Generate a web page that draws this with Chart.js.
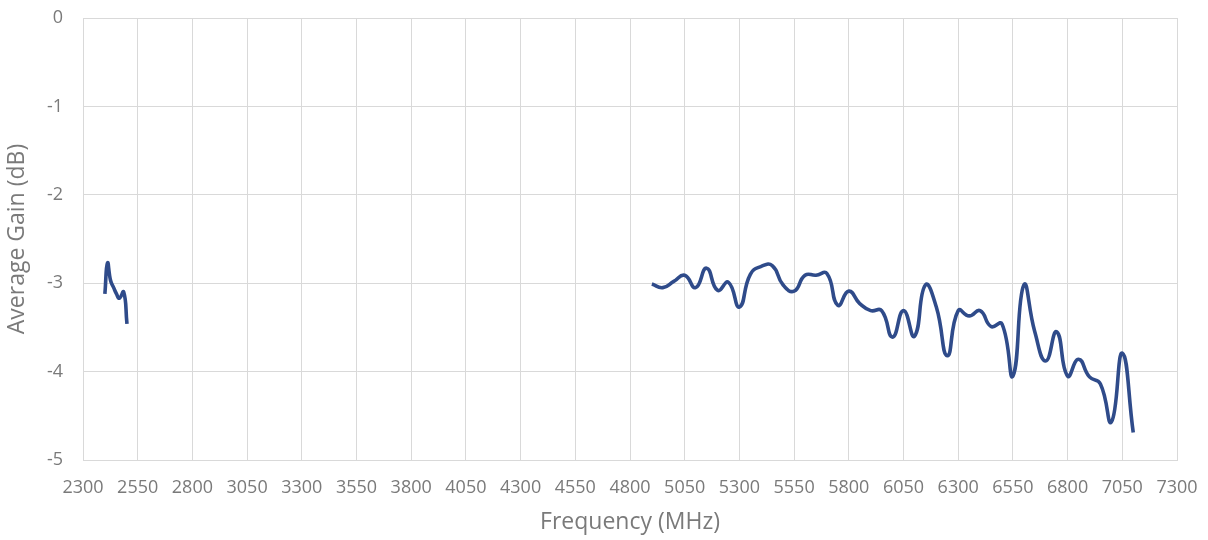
<!DOCTYPE html>
<html>
<head>
<meta charset="utf-8">
<script src="https://cdn.jsdelivr.net/npm/chart.js@4.4.1/dist/chart.umd.min.js"></script>
<style>
html,body{margin:0;padding:0;background:#fff;}
#wrap{width:1208px;height:540px;}
</style>
</head>
<body>
<div id="wrap"><canvas id="c" width="1208" height="540"></canvas></div>
<script>
const band1Freq = [2400, 2412, 2426, 2440, 2453, 2466, 2486, 2501];
const band1Gain = [-3.12, -2.77, -2.97, -3.05, -3.12, -3.17, -3.10, -3.46];

const band2Freq = [4900, 4950, 5000, 5050, 5100, 5150, 5200, 5250, 5300, 5350, 5400, 5450, 5500, 5550, 5600, 5650, 5700, 5750, 5800, 5850, 5900, 5950, 6000, 6050, 6100, 6150, 6200, 6250, 6300, 6350, 6400, 6450, 6500, 6550, 6600, 6650, 6700, 6750, 6800, 6850, 6900, 6950, 7000, 7050, 7100];
const band2Gain = [-3.01, -3.05, -2.98, -2.91, -3.05, -2.83, -3.08, -2.99, -3.27, -2.90, -2.81, -2.80, -3.02, -3.09, -2.91, -2.91, -2.89, -3.25, -3.09, -3.23, -3.31, -3.31, -3.61, -3.31, -3.60, -3.02, -3.27, -3.82, -3.31, -3.37, -3.31, -3.49, -3.46, -4.05, -3.02, -3.55, -3.88, -3.55, -4.05, -3.86, -4.06, -4.14, -4.57, -3.79, -4.69];

const xMin = 2300, xMax = 7300, xStep = 250;
const yMin = -5, yMax = 0, yStep = 1;

const toPts = (fs, gs) => fs.map((f, i) => ({x: f, y: gs[i]}));

const txt = '#7a7a7a';
const grid = '#d9d9d9';
const font = "'Open Sans', 'Noto Sans', sans-serif";

new Chart(document.getElementById('c'), {
  type: 'line',
  data: {
    datasets: [
      {data: toPts(band1Freq, band1Gain), borderColor: '#2f4b8a', borderWidth: 3.6, pointRadius: 0, tension: 0.5, fill: false},
      {data: toPts(band2Freq, band2Gain), borderColor: '#2f4b8a', borderWidth: 3.6, pointRadius: 0, tension: 0.5, fill: false}
    ]
  },
  options: {
    responsive: false,
    animation: false,
    devicePixelRatio: 1,
    layout: {padding: {left: 0, right: 31, top: 18, bottom: 0}},
    plugins: {legend: {display: false}, tooltip: {enabled: false}},
    scales: {
      x: {
        type: 'linear', min: xMin, max: xMax,
        afterFit: s => { s.height = 80; s.paddingLeft = 0; s.paddingRight = 0; },
        afterBuildTicks: s => { const t = []; for (let v = xMin; v <= xMax; v += xStep) t.push({value: v}); s.ticks = t; },
        grid: {color: grid, lineWidth: 1, drawTicks: false},
        border: {color: grid},
        ticks: {color: txt, font: {family: font, size: 18}, padding: 17, maxRotation: 0, autoSkip: false, callback: v => String(v)},
        title: {display: true, text: 'Frequency (MHz)', color: txt, font: {family: font, size: 23}, padding: {top: 4}}
      },
      y: {
        type: 'linear', min: yMin, max: yMax,
        afterFit: s => { s.width = 83; s.paddingTop = 0; s.paddingBottom = 0; },
        afterBuildTicks: s => { const t = []; for (let v = yMin; v <= yMax; v += yStep) t.push({value: v}); s.ticks = t; },
        grid: {color: grid, lineWidth: 1, drawTicks: false},
        border: {color: grid},
        ticks: {color: txt, font: {family: font, size: 18}, padding: 20, callback: v => String(v)},
        title: {display: true, text: 'Average Gain (dB)', color: txt, font: {family: font, size: 23}, padding: {bottom: 2}}
      }
    }
  },
  plugins: [{
    id: 'frame',
    afterDraw(chart) {
      const {ctx, chartArea: a} = chart;
      ctx.save();
      ctx.strokeStyle = grid; ctx.lineWidth = 1;
      ctx.strokeRect(a.left + 0.5, a.top + 0.5, a.right - a.left, a.bottom - a.top);
      ctx.restore();
    }
  }]
});
</script>
</body>
</html>
